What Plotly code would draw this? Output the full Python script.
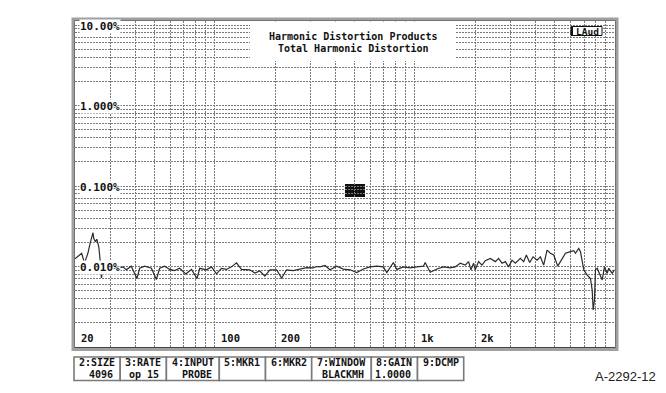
import math
import plotly.graph_objects as go

# Measured THD of the analyzer input versus frequency
freq_hz = [
    20, 21.1, 21.6, 22.3, 23.2, 23.8, 24.6, 24.8, 25.3, 25.7, 26.3, 26.7, 27.1, 27.6,
    29.8, 30.9, 32.7, 34.7, 36.1, 38.2, 40.8, 42.1, 44.6, 48.2,
    51.0, 53.0, 56.1, 59.5, 63.0, 66.7, 71.5, 76.4, 81.5, 84.0,
    90.8, 96.2, 101.9, 107.9, 114.3, 121, 128.3, 135.8, 149.6, 158.5,
    167.8, 177.8, 188.4, 203.5, 215.6, 228.4, 246.4, 266.2, 287.6, 310.4,
    322.8, 335.2, 355.2, 376.2, 406.4, 438.6, 474, 511.8, 552.4, 596.8,
    644.8, 695.6, 723.6, 780.6, 811.6, 876, 946.4, 1022, 1103, 1125,
    1192, 1288, 1390, 1501,
    1590, 1684, 1784, 1854, 1906, 1964, 2002, 2080, 2162, 2248,
    2380, 2522, 2620, 2724, 2830, 2938, 3058, 3176, 3364, 3496,
    3606, 3746, 3896, 4078, 4236, 4400, 4576, 4754, 4940, 5172,
    5442, 5654, 5988, 6220, 6344, 6590, 6720, 6982, 7260, 7540,
    7690, 7780, 7896, 7988, 8146, 8394, 8628, 8860, 9140, 9310,
    9682, 9942,
]
thd_pct = [
    0.0125, 0.0139, 0.0146, 0.0110, 0.0146, 0.0194, 0.0263, 0.0224, 0.0203, 0.0218, 0.0176, 0.0120, 0.0072, 0.0095,
    0.0101, 0.0104, 0.0095, 0.0099, 0.0091, 0.0101, 0.0071, 0.0095, 0.0101, 0.0095,
    0.0069, 0.0095, 0.0101, 0.0092, 0.0089, 0.0095, 0.0081, 0.0092, 0.0071, 0.0095,
    0.0091, 0.0099, 0.0081, 0.0095, 0.0092, 0.0099, 0.0111, 0.0092, 0.0091, 0.0083,
    0.0088, 0.0076, 0.0091, 0.0091, 0.0072, 0.0091, 0.0089, 0.0093, 0.0097, 0.0096,
    0.0100, 0.0099, 0.0103, 0.0091, 0.0101, 0.0093, 0.0091, 0.0084, 0.0093, 0.0099,
    0.0101, 0.0099, 0.0084, 0.0112, 0.0092, 0.0099, 0.0096, 0.0099, 0.0101, 0.0112,
    0.0085, 0.0093, 0.0099, 0.0096,
    0.0099, 0.0110, 0.0104, 0.0115, 0.0091, 0.0110, 0.0091, 0.0115, 0.0104, 0.0118,
    0.0126, 0.0115, 0.0126, 0.0110, 0.0115, 0.0099, 0.0120, 0.0110, 0.0126, 0.0115,
    0.0139, 0.0112, 0.0132, 0.0120, 0.0132, 0.0104, 0.0160, 0.0146, 0.0139, 0.0101,
    0.0126, 0.0146, 0.0153, 0.0157, 0.0146, 0.0168, 0.0153, 0.0091, 0.0078, 0.0071,
    0.0051, 0.00288, 0.00384, 0.0091, 0.0095, 0.0078, 0.0068, 0.0099, 0.0082, 0.0095,
    0.0082, 0.0091,
]

x_label_vals = [20, 100, 200, 1000, 2000]
x_label_text = ["20", "100", "200", "1k", "2k"]
y_label_vals = [10, 1, 0.1, 0.01]
y_label_text = ["10.00%", "1.000%", "0.100%", "0.010%"]
title_lines = ["Harmonic Distortion Products", "Total Harmonic Distortion"]
channel_tag = "LAud"
softkey_names = ["2:SIZE", "3:RATE", "4:INPUT", "5:MKR1", "6:MKR2", "7:WINDOW", "8:GAIN", "9:DCMP"]
softkey_values = ["4096", "op 15", "PROBE", "", "", "BLACKMH", "1.0000", ""]
figure_code = "A-2292-12"

# cursor block position (Hz, %)
cursor_f = [447, 563]
cursor_v = [0.073, 0.106]

W, H = 666, 393
L, R, T, B = 75, 51, 21, 46
PW = W - L - R
PH = H - T - B


def fx(px):
    return (px - L) / PW


def fy(py):
    return (H - B - py) / PH


MONO = "DejaVu Sans Mono"
INK = "#111111"
GRID = "#7a7a7a"

x_grid = [m * 10 ** k for k in range(1, 4) for m in range(1, 10) if 20 < m * 10 ** k < 10000]
y_grid = [m * 10.0 ** k for k in range(-3, 1) for m in range(1, 10)] + [10.0]

fig = go.Figure()
fig.add_trace(go.Scatter(
    x=freq_hz, y=thd_pct, mode="lines",
    line=dict(color="#2b2b2b", width=1.2),
    showlegend=False, hoverinfo="skip",
))

shapes = []

# white panel behind the heading
shapes.append(dict(type="rect", xref="paper", yref="paper",
                   x0=fx(250), x1=fx(455), y0=fy(61), y1=fy(21.5),
                   fillcolor="white", line=dict(width=0), layer="above"))

# channel tag box
shapes.append(dict(type="rect", xref="paper", yref="paper",
                   x0=fx(571), x1=fx(602), y0=fy(35.5), y1=fy(26.5),
                   fillcolor="white", line=dict(color="#111", width=1), layer="above"))
shapes.append(dict(type="line", xref="paper", yref="paper",
                   x0=fx(572), x1=fx(572), y0=fy(35.5), y1=fy(26.5),
                   line=dict(color="#111", width=2), layer="above"))

# cursor block
shapes.append(dict(type="rect", xref="x", yref="y",
                   x0=cursor_f[0], x1=cursor_f[1], y0=cursor_v[0], y1=cursor_v[1],
                   fillcolor="#111111", line=dict(width=0), layer="below"))

# screen frame
shapes.append(dict(type="rect", xref="paper", yref="paper",
                   x0=fx(73), x1=fx(617), y0=fy(349.5), y1=fy(19),
                   line=dict(color="#a0a0a0", width=3), layer="above"))

annotations = []

# level labels on a white ground
for v, t in zip(y_label_vals, y_label_text):
    annotations.append(dict(
        text=t, xref="paper", yref="y", x=fx(78.5), y=math.log10(v),
        xanchor="left", yanchor="middle", yshift=-1, showarrow=False,
        bgcolor="white", borderpad=0,
        font=dict(family=MONO, size=11, color=INK, weight="bold"),
    ))

for i, line in enumerate(title_lines):
    annotations.append(dict(
        text=line, xref="paper", yref="paper", x=fx(353), y=fy(36.5 + 11.6 * i),
        xanchor="center", yanchor="middle", showarrow=False,
        font=dict(family=MONO, size=10, color=INK, weight="bold"),
    ))

annotations.append(dict(
    text=channel_tag, xref="paper", yref="paper", x=fx(587.5), y=fy(31),
    xanchor="center", yanchor="middle", showarrow=False,
    font=dict(family=MONO, size=9.5, color=INK, weight="bold"),
))

for v, t in zip(x_label_vals, x_label_text):
    annotations.append(dict(
        text=t, xref="x", yref="paper", x=math.log10(v), y=0,
        xanchor="left", yanchor="bottom", xshift=4, yshift=1, showarrow=False,
        font=dict(family=MONO, size=10.5, color=INK, weight="bold"),
    ))

# soft-key strip
CHAR_W = 6.7
left = 74.0
top_px, bot_px = 357.0, 380.5
for name, val in zip(softkey_names, softkey_values):
    right = left + len(name) * CHAR_W + 6
    shapes.append(dict(type="rect", xref="paper", yref="paper",
                       x0=fx(left), x1=fx(right), y0=fy(bot_px), y1=fy(top_px),
                       fillcolor="white", line=dict(color="#7a7a7a", width=1.6), layer="above"))
    annotations.append(dict(
        text=name, xref="paper", yref="paper", x=fx((left + right) / 2), y=fy(362.8),
        xanchor="center", yanchor="middle", showarrow=False,
        font=dict(family=MONO, size=10, color=INK, weight="bold"),
    ))
    if val:
        annotations.append(dict(
            text=val, xref="paper", yref="paper", x=fx(right - 5), y=fy(374.5),
            xanchor="right", yanchor="middle", showarrow=False,
            font=dict(family=MONO, size=10, color=INK, weight="bold"),
        ))
    left = right

annotations.append(dict(
    text=figure_code, xref="paper", yref="paper", x=fx(593), y=fy(376.5),
    xanchor="left", yanchor="middle", showarrow=False,
    font=dict(family="Liberation Sans", size=13, color="#222"),
))

axis_common = dict(
    type="log", showticklabels=False, ticks="", showgrid=True,
    gridcolor=GRID, gridwidth=1, griddash="2px,1px", zeroline=False,
    showline=True, linecolor="#444", linewidth=1, mirror=True,
)

fig.update_layout(
    width=W, height=H,
    margin=dict(l=L, r=R, t=T, b=B),
    paper_bgcolor="white", plot_bgcolor="white",
    xaxis=dict(range=[math.log10(20), 4], tickvals=x_grid, **axis_common),
    yaxis=dict(range=[-3, 1.05], tickvals=y_grid, **axis_common),
    shapes=shapes, annotations=annotations,
)

fig.write_html("out.html")
